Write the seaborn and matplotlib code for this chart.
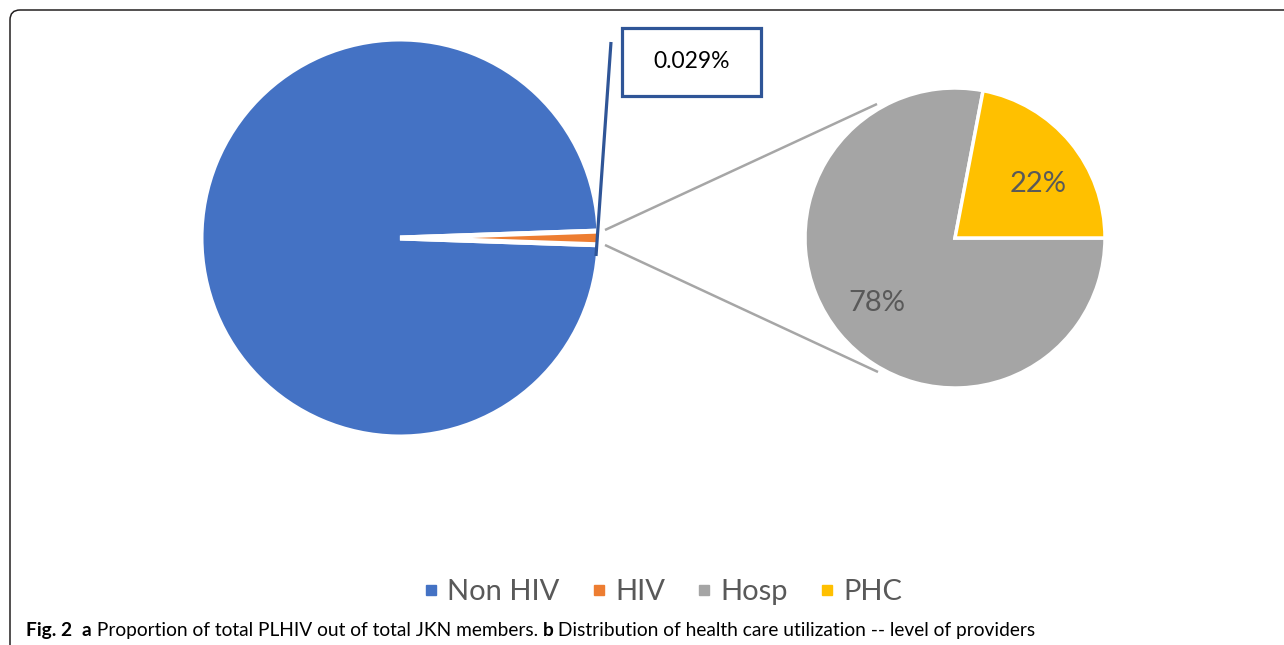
import matplotlib
matplotlib.use("Agg")
import matplotlib.pyplot as plt
import seaborn as sns
from matplotlib.lines import Line2D
from matplotlib.patches import FancyBboxPatch, Rectangle

# Data
main_labels = ["Non HIV", "HIV"]
main_values = [98.9, 1.1]          # HIV slice drawn wider than its true share, as in the original
hiv_share_text = "0.029%"
sub_labels = ["Hosp", "PHC"]
sub_values = [78, 22]

colors = {"Non HIV": "#4472C4", "HIV": "#ED7D31", "Hosp": "#A5A5A5", "PHC": "#FFC000"}
TEXT_GREY = "#595959"
CALLOUT_BLUE = "#2F5597"

sns.set_theme(style="white")
plt.rcParams['font.family'] = ['Lato', 'DejaVu Sans']

W, H = 1284, 645
fig = plt.figure(figsize=(W / 100, H / 100), dpi=100)
ax = fig.add_axes([0, 0, 1, 1])

# Left pie (total members)
main_center = (400, H - 238)
ax.pie(main_values, colors=[colors[l] for l in main_labels], startangle=2,
       center=main_center, radius=199, frame=False,
       wedgeprops=dict(edgecolor="white", linewidth=3.6))

# Right pie (level of providers)
sub_center = (955, H - 238)
wedges, texts, autotexts = ax.pie(
    sub_values, colors=[colors[l] for l in sub_labels], startangle=79.2,
    center=sub_center, radius=150, frame=False,
    autopct="%.0f%%", pctdistance=0.68,
    textprops=dict(color=TEXT_GREY, fontsize=21),
    wedgeprops=dict(edgecolor="white", linewidth=2.5))
# Excel puts the small-slice label a bit lower than the wedge middle
autotexts[1].set_position((autotexts[1].get_position()[0] + 5,
                           autotexts[1].get_position()[1] - 11))

# Connector lines between the pies
ax.plot([605, 877], [H - 230, H - 104], color="#A6A6A6", lw=1.8, solid_capstyle="butt")
ax.plot([605, 878], [H - 245, H - 372], color="#A6A6A6", lw=1.8, solid_capstyle="butt")

# Callout for the HIV share
ax.plot([611, 596], [H - 42, H - 256], color=CALLOUT_BLUE, lw=2.3, solid_capstyle="butt")
ax.add_patch(Rectangle((622, H - 96), 139, 68, fill=False, edgecolor=CALLOUT_BLUE, lw=2.3))
ax.text(691.5, H - 61, hiv_share_text, ha="center", va="center", fontsize=16.5, color="black")

# Rounded outer frame (only top and left sides visible)
ax.add_patch(FancyBboxPatch((10, -100), 1400, H - 10 + 100,
                            boxstyle="round,pad=0,rounding_size=10",
                            fill=False, edgecolor="#231F20", lw=1.1, clip_on=False))

ax.set_xlim(0, W)
ax.set_ylim(0, H)
ax.set_aspect("equal")
ax.axis("off")

# Legend
handles = [Line2D([], [], marker="s", linestyle="", markersize=7.5,
                  markerfacecolor=colors[l], markeredgecolor=colors[l])
           for l in main_labels + sub_labels]
leg = fig.legend(handles, main_labels + sub_labels, loc="center", ncol=4,
                 bbox_to_anchor=(661 / W, 1 - 592 / H), frameon=False,
                 fontsize=21, handletextpad=0.15, columnspacing=0.95,
                 handlelength=0.8)
for t in leg.get_texts():
    t.set_color(TEXT_GREY)

# Caption with bold parts, placed piece by piece
caption_parts = [("Fig. 2", "bold"), ("  ", "normal"), ("a", "bold"),
                 (" Proportion of total PLHIV out of total JKN members. ", "normal"),
                 ("b", "bold"),
                 (" Distribution of health care utilization -- level of providers", "normal")]
fig.canvas.draw()
renderer = fig.canvas.get_renderer()
x = 26
for txt, weight in caption_parts:
    t = ax.text(x, H - 636, txt, fontsize=13.8, fontweight=weight,
                color="black", va="baseline", ha="left")
    bb = t.get_window_extent(renderer)
    x += bb.width

fig.savefig("out.png", dpi=100)
